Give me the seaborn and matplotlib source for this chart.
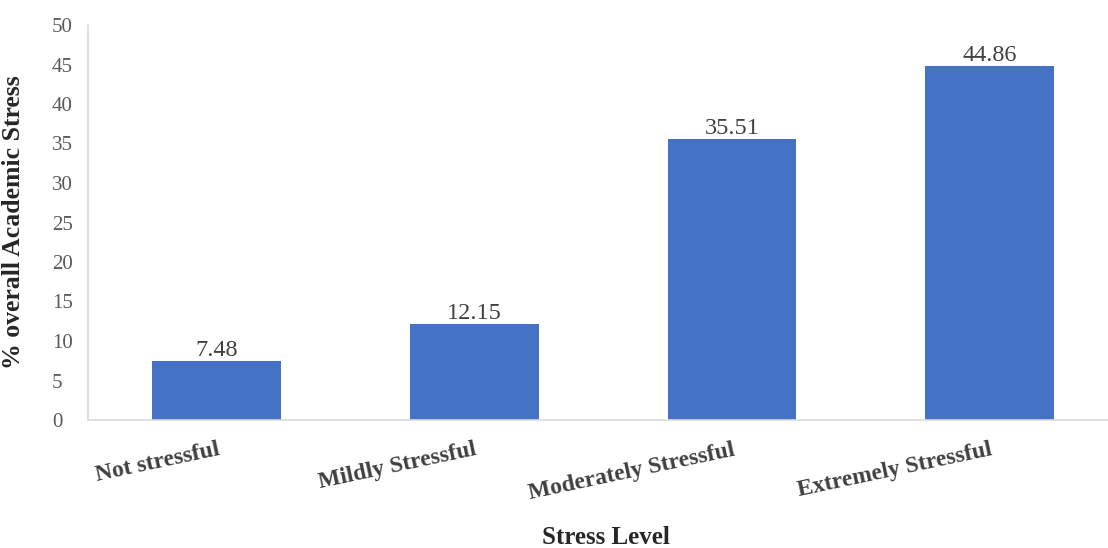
import matplotlib
matplotlib.use("Agg")
import matplotlib.pyplot as plt
import seaborn as sns
import pandas as pd

categories = ["Not stressful", "Mildly Stressful", "Moderately Stressful", "Extremely Stressful"]
values = [7.48, 12.15, 35.51, 44.86]
yticks = [0, 5, 10, 15, 20, 25, 30, 35, 40, 45, 50]

sns.set_theme(style="white")
plt.rcParams["font.family"] = ["Liberation Serif", "DejaVu Serif"]

df = pd.DataFrame({"level": categories, "pct": values})

fig = plt.figure(figsize=(11.08, 5.48), dpi=100)
ax = fig.add_axes([88 / 1108, 1 - 420 / 548, 1020 / 1108, 395 / 548])

sns.barplot(data=df, x="level", y="pct", color="#4472C4", saturation=1,
            width=0.5, ax=ax, edgecolor="none")

ax.set_ylim(0, 50)
ax.set_xlim(-0.5, 3.46)
ax.set_yticks(yticks)
ax.set_yticklabels([str(t) for t in yticks], fontsize=15, color="#595959", ha="left")
ax.tick_params(axis="y", length=0, pad=26)
ax.tick_params(axis="x", length=0, pad=14)
ax.set_xticks(range(len(categories)))
ax.set_xticklabels(categories, rotation=12, ha="right", rotation_mode="anchor",
                   fontsize=17, fontweight="bold", color="#404040")

for c in ax.containers:
    ax.bar_label(c, labels=[f"{v:.2f}" for v in values], fontsize=17.5,
                 color="#404040", padding=0)

for s in ["top", "right"]:
    ax.spines[s].set_visible(False)
for s in ["left", "bottom"]:
    ax.spines[s].set_color("#d9d9d9")
    ax.spines[s].set_linewidth(1.2)

ax.set_xlabel("Stress Level", fontsize=18, fontweight="bold", color="#262626")
ax.set_ylabel("% overall Academic Stress", fontsize=18.5, fontweight="bold", color="#262626")
ax.yaxis.set_label_coords(-63 / 1020, 0.5)
ax.xaxis.set_label_coords(0.5 + 8 / 1020, -106 / 395)

fig.savefig("out.png", dpi=100)
